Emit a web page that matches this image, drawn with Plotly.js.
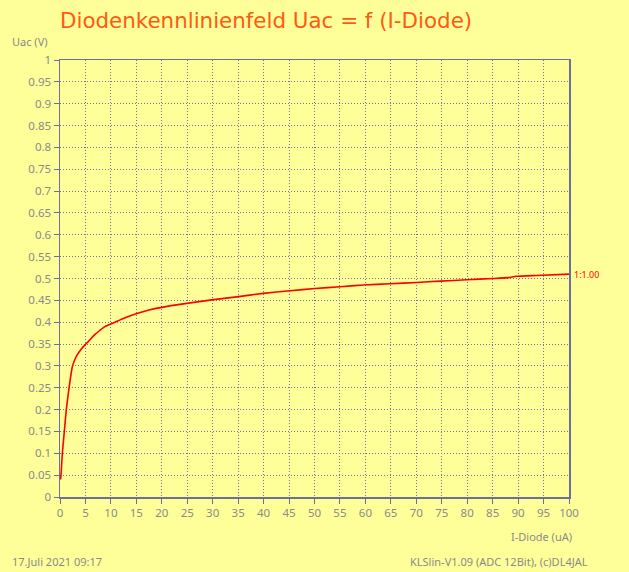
<!DOCTYPE html>
<html>
<head>
<meta charset="utf-8">
<script src="https://cdn.plot.ly/plotly-3.0.1.min.js"></script>
<style>html,body{margin:0;padding:0;background:#ffff99;}</style>
</head>
<body>
<div id="chart" style="width:629px;height:572px;"></div>
<script>
const currentUA = [0.1, 0.2, 0.46, 0.85, 1.24, 1.77, 2.42, 2.9, 3.27, 4.0, 4.9, 5.5, 6.2, 6.9, 7.8, 8.8, 10.8, 12.8, 15.1, 17.5, 20, 24.9, 29.8, 34.7, 39.9, 45.2, 50.1, 55, 59.6, 64.8, 70.1, 74.7, 79.9, 85.1, 88, 89.7, 93.6, 100];
const voltageV = [0.04, 0.05, 0.10, 0.15, 0.20, 0.249, 0.298, 0.314, 0.323, 0.336, 0.348, 0.355, 0.364, 0.372, 0.381, 0.39, 0.40, 0.41, 0.42, 0.428, 0.434, 0.443, 0.451, 0.458, 0.466, 0.472, 0.477, 0.481, 0.485, 0.488, 0.491, 0.494, 0.497, 0.500, 0.502, 0.505, 0.507, 0.510];
const xTicks = [0,5,10,15,20,25,30,35,40,45,50,55,60,65,70,75,80,85,90,95,100];
const yTicks = [0,0.05,0.1,0.15,0.2,0.25,0.3,0.35,0.4,0.45,0.5,0.55,0.6,0.65,0.7,0.75,0.8,0.85,0.9,0.95,1];
const curveLabel = "1:1.00";

const axisCol = '#6e6e9e';
const gridCol = '#7272a8';
const tickFont = {family: 'Noto Sans, sans-serif', size: 11.5, color: '#8a8a8a'};

const trace = {
  x: currentUA, y: voltageV, mode: 'lines', type: 'scatter',
  line: {color: '#ff0000', width: 1.6, shape: 'spline', smoothing: 0.5}, hoverinfo: 'skip'
};

const axisBase = {
  showline: true, linecolor: axisCol, linewidth: 1.5, mirror: true,
  ticks: 'outside', ticklen: 5, tickcolor: axisCol,
  showgrid: true, gridcolor: gridCol, griddash: '1px,2px', gridwidth: 1,
  zeroline: false, tickfont: tickFont, fixedrange: true
};

const layout = {
  width: 629, height: 572,
  paper_bgcolor: '#ffff99', plot_bgcolor: '#ffff99',
  margin: {l: 60, r: 60, t: 60, b: 75},
  showlegend: false,
  title: {text: 'Diodenkennlinienfeld Uac = f (I-Diode)', x: 60/629, xanchor: 'left', y: 1 - 21/572, yanchor: 'middle',
          font: {family: 'DejaVu Sans, sans-serif', size: 21.4, color: '#ff5a14'}},
  xaxis: Object.assign({range: [0, 100], tickvals: xTicks, ticktext: xTicks.map(String)}, axisBase),
  yaxis: Object.assign({range: [0, 1], tickvals: yTicks, ticktext: yTicks.map(String)}, axisBase),
  annotations: [
    {text: 'Uac (V)', xref: 'paper', yref: 'paper', x: -50/509, y: 1 + 19/437, xanchor: 'left', yanchor: 'middle', showarrow: false,
     font: {family: 'Noto Sans, sans-serif', size: 11, color: '#8a8a8a'}},
    {text: 'I-Diode (uA)', xref: 'paper', yref: 'paper', x: 514/509, y: -39/437, xanchor: 'right', yanchor: 'middle', showarrow: false,
     font: {family: 'Noto Sans, sans-serif', size: 11, color: '#8a8a8a'}},
    {text: '17.Juli 2021 09:17', xref: 'paper', yref: 'paper', x: -50/509, y: -64/437, xanchor: 'left', yanchor: 'middle', showarrow: false,
     font: {family: 'Noto Sans, sans-serif', size: 11, color: '#8a8a8a'}},
    {text: 'KLSlin-V1.09 (ADC 12Bit), (c)DL4JAL', xref: 'paper', yref: 'paper', x: 530/509, y: -64/437, xanchor: 'right', yanchor: 'middle', showarrow: false,
     font: {family: 'Noto Sans, sans-serif', size: 11, color: '#8a8a8a'}},
    {text: curveLabel, xref: 'x', yref: 'y', x: currentUA[currentUA.length-1], y: voltageV[voltageV.length-1], xanchor: 'left', yanchor: 'middle', xshift: 3, showarrow: false,
     font: {family: 'Noto Sans, sans-serif', size: 9, color: '#ff0000'}}
  ]
};

Plotly.newPlot('chart', [trace], layout, {displayModeBar: false, staticPlot: true});
</script>
</body>
</html>
